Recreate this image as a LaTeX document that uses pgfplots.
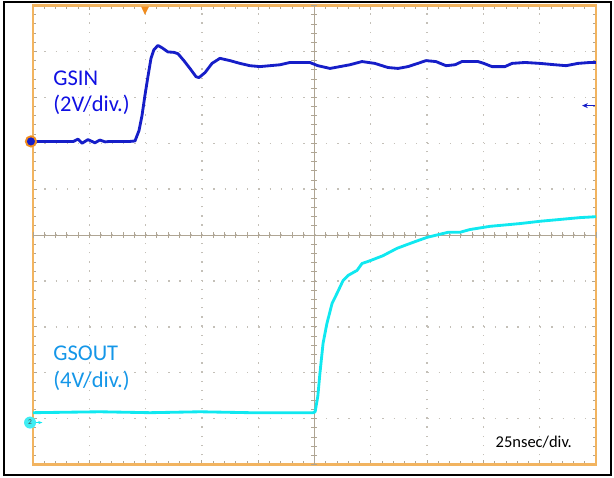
\documentclass[border=0pt]{standalone}
\usepackage{pgfplots}
\pgfplotsset{compat=1.18}
\usepackage{fontspec}
\setmainfont{Carlito}
\usetikzlibrary{arrows.meta}

\definecolor{frameorange}{RGB}{242,180,96}
\definecolor{trigorange}{RGB}{240,140,30}
\definecolor{gsinblue}{RGB}{22,30,200}
\definecolor{gsintext}{RGB}{16,16,226}
\definecolor{gsoutcyan}{RGB}{16,232,240}
\definecolor{gsouttext}{RGB}{20,150,232}
\definecolor{gridgray}{RGB}{196,192,184}
\definecolor{centergray}{RGB}{175,165,148}

\begin{document}
\begin{tikzpicture}
\begin{axis}[
  scale only axis,
  width=337.8pt, height=275.4pt,
  xmin=0, xmax=250, ymin=0, ymax=10,
  xtick={0,25,...,250}, ytick={0,1,...,10},
  minor x tick num=4, minor y tick num=4,
  xticklabels={}, yticklabels={},
  xtick pos=both, ytick pos=both,
  tick align=inside,
  major tick length=2.6pt, minor tick length=2pt,
  tick style={centergray, line width=0.5pt},
  grid=major,
  x grid style={gridgray, line width=0.8pt, dash pattern=on 0.8pt off 4.71pt},
  y grid style={gridgray, line width=0.8pt, dash pattern=on 0.8pt off 5.96pt},
  axis line style={frameorange, line width=1.5pt},
  clip=false,
]
% page size and outer border
\path (rel axis cs:-0.0586,-0.0283) rectangle (rel axis cs:1.032,1.0109);
\draw[black, line width=1.2pt] (rel axis cs:-0.0515,-0.0218) rectangle (rel axis cs:1.0266,1.0087);

% centre cross with its ticks
\draw[centergray, line width=0.55pt] (axis cs:125,0) -- (axis cs:125,10);
\draw[centergray, line width=0.55pt] (axis cs:0,5) -- (axis cs:250,5);
\pgfplotsinvokeforeach{0,0.2,...,10}{
  \draw[centergray, line width=0.5pt] (axis cs:125,#1) ++(-1.8pt,0) -- ++(3.6pt,0);
}
\pgfplotsinvokeforeach{0,5,...,250}{
  \draw[centergray, line width=0.5pt] (axis cs:#1,5) ++(0,-1.8pt) -- ++(0,3.6pt);
}

% GSIN (channel 1)
\addplot[gsinblue, line width=1.7pt, line join=round] coordinates {
(0,7.04) (12.0,7.04) (18,7.04) (20.0,7.09) (21.8,7.00) (24.4,7.08) (27.5,7.01)
(29.7,7.07) (32,7.03) (34.2,7.04) (43.1,7.04) (45.3,7.05) (47.1,7.28) (48.4,7.60)
(49.7,8.04) (51.1,8.47) (52.4,8.85) (53.7,9.04) (55.5,9.13) (57.3,9.08)
(59.9,8.99) (62.6,8.98) (64.4,8.95) (67.0,8.80) (69.7,8.63) (72.4,8.45)
(73.7,8.43) (76.4,8.54) (79.5,8.74) (83.0,8.85) (87.5,8.80) (91.9,8.74)
(96.3,8.69) (100.8,8.67) (105.2,8.69) (109.7,8.71) (114.1,8.76) (118.5,8.76)
(122.9,8.76) (126.5,8.69) (131.9,8.63) (136.3,8.67) (140.7,8.71) (146.1,8.78)
(151.8,8.74) (157.6,8.65) (162.1,8.63) (166.5,8.67) (170.9,8.74) (174.5,8.80)
(178.9,8.78) (183.4,8.69) (187.4,8.71) (190.5,8.78) (197.6,8.78) (200.2,8.74)
(203.8,8.67) (209.6,8.67) (212.7,8.74) (218.5,8.76) (225.1,8.74) (231.8,8.71)
(236.7,8.69) (242.0,8.74) (247.3,8.76) (250,8.76)
};

% GSOUT (channel 2)
\addplot[gsoutcyan, line width=1.7pt, line join=round] coordinates {
(0,1.13) (29.7,1.15) (52,1.13) (74.2,1.15) (96.3,1.13) (118.5,1.13)
(124.4,1.13) (125.3,1.15) (126.5,1.50) (127.4,1.98) (128.8,2.64) (130.5,3.07)
(132.8,3.51) (135.0,3.73) (137.7,4.01) (139.9,4.12) (143.9,4.23) (146.1,4.38)
(149.6,4.44) (155.4,4.55) (161.6,4.71) (168.7,4.84) (175.0,4.95) (184.3,5.06)
(189.6,5.06) (194.0,5.12) (202.9,5.19) (216.2,5.25) (225.1,5.30) (234.0,5.34)
(242.9,5.38) (250,5.40)
};

% channel and trigger markers
\draw[trigorange, line width=1.1pt, fill=gsinblue] (axis cs:-0.9,7.04) circle[radius=3.1pt];
\fill[gsoutcyan!80!white] (axis cs:-1.3,0.915) circle[radius=3.6pt];
\node[font=\fontsize{4.5}{4.5}\selectfont, text=black!70] at (axis cs:-1.3,0.915) {2};
\draw[gsoutcyan, line width=0.9pt, -{Stealth[length=2.5pt]}] (axis cs:1.2,0.915) -- (axis cs:4.2,0.915);
\fill[trigorange] (axis cs:48.0,9.978) -- (axis cs:51.5,9.978) -- (axis cs:49.7,9.80) -- cycle;
\draw[gsinblue, line width=0.9pt, {Stealth[length=3.5pt,width=3pt]}-] (axis cs:243.8,7.82) -- (axis cs:249.5,7.82);

% labels
\node[anchor=base west, text=gsintext, font=\fontsize{13.5}{15}\selectfont, inner sep=0pt]
  at (axis cs:8.9,8.26) {GSIN};
\node[anchor=base west, text=gsintext, font=\fontsize{13.5}{15}\selectfont, inner sep=0pt]
  at (axis cs:8.9,7.69) {(2V/div.)};
\node[anchor=base west, text=gsouttext, font=\fontsize{13.5}{15}\selectfont, inner sep=0pt]
  at (axis cs:8.9,2.27) {GSOUT};
\node[anchor=base west, text=gsouttext, font=\fontsize{13.5}{15}\selectfont, inner sep=0pt]
  at (axis cs:8.9,1.68) {(4V/div.)};
\node[anchor=base west, text=black, font=\fontsize{9.9}{11}\selectfont, inner sep=0pt]
  at (axis cs:205.3,0.37) {25nsec/div.};
\end{axis}
\end{tikzpicture}
\end{document}
